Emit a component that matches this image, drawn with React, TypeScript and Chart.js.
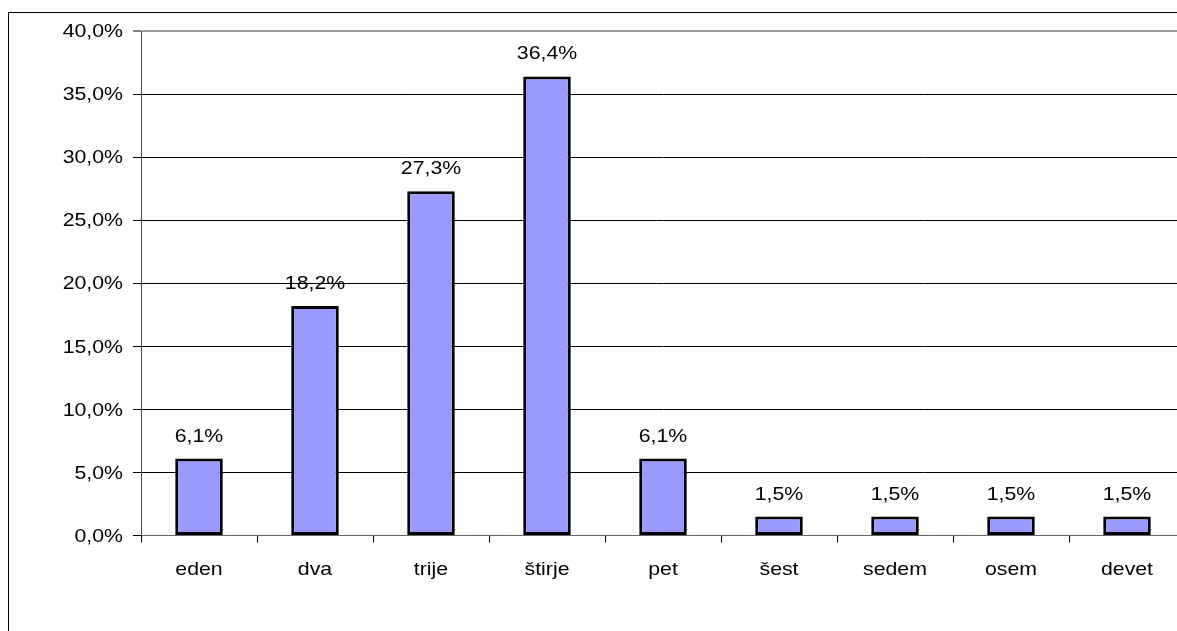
import React, { useEffect, useRef } from "react";
import { Chart, registerables } from "chart.js";

Chart.register(...registerables);

const categories = ["eden", "dva", "trije", "štirje", "pet", "šest", "sedem", "osem", "devet"];
const values = [6.1, 18.2, 27.3, 36.4, 6.1, 1.5, 1.5, 1.5, 1.5];
const yTicks = [0, 5, 10, 15, 20, 25, 30, 35, 40];

const FONT = '19px "Liberation Sans", Arial, sans-serif';
const SX = 1.12;

function fmt(v: number) {
  return v.toFixed(1).replace(".", ",") + "%";
}

function drawText(ctx: CanvasRenderingContext2D, text: string, x: number, y: number, align: "left" | "center" | "right", baseline: CanvasTextBaseline) {
  ctx.save();
  ctx.translate(x, y);
  ctx.scale(SX, 1);
  ctx.font = FONT;
  ctx.fillStyle = "#000";
  ctx.textAlign = align;
  ctx.textBaseline = baseline;
  ctx.fillText(text, 0, 0);
  ctx.restore();
}

const textPlugin = {
  id: "textPlugin",
  afterDraw(chart: any) {
    const ctx = chart.ctx as CanvasRenderingContext2D;
    const xs = chart.scales.x;
    const ys = chart.scales.y;
    yTicks.forEach((v) => {
      drawText(ctx, fmt(v), 123, ys.getPixelForValue(v) + 1, "right", "middle");
    });
    categories.forEach((c, i) => {
      drawText(ctx, c, xs.getPixelForValue(i), 575, "center", "alphabetic");
    });
    const meta = chart.getDatasetMeta(0);
    meta.data.forEach((bar: any, i: number) => {
      drawText(ctx, fmt(values[i]), bar.x, bar.y - 17, "center", "alphabetic");
    });
  },
};

export default function App() {
  const ref = useRef<HTMLCanvasElement | null>(null);
  useEffect(() => {
    if (!ref.current) return;
    const chart = new Chart(ref.current, {
      type: "bar",
      data: {
        labels: categories,
        datasets: [
          {
            data: values,
            backgroundColor: "#9999FF",
            borderColor: "#000000",
            borderWidth: 3,
            borderSkipped: false,
            categoryPercentage: 1,
            barPercentage: 0.41,
          },
        ],
      },
      options: {
        responsive: false,
        animation: false,
        devicePixelRatio: 1,
        layout: { padding: { left: 0, top: 31, right: 55, bottom: 0 } },
        plugins: { legend: { display: false }, tooltip: { enabled: false } },
        scales: {
          x: {
            afterFit: (s: any) => {
              s.height = 104.5;
            },
            ticks: { display: false },
            grid: {
              offset: true,
              drawOnChartArea: false,
              drawTicks: true,
              tickLength: 7,
              color: "#000",
            },
            border: { display: true, color: "#666", width: 1 },
          },
          y: {
            min: 0,
            max: 40,
            afterFit: (s: any) => {
              s.width = 141;
            },
            ticks: { display: false, stepSize: 5 },
            grid: {
              color: (c: any) => (c.tick && c.tick.value === 40 ? "#999" : "#000"),
              lineWidth: (c: any) => (c.tick && c.tick.value === 40 ? 2 : 1),
              tickLength: 8,
              tickColor: "#000",
              tickWidth: 1,
            },
            border: { display: true, color: "#444", width: 1 },
          },
        },
      },
      plugins: [textPlugin],
    });
    return () => chart.destroy();
  }, []);

  return (
    <div
      style={{
        position: "fixed",
        left: 0,
        top: 0,
        width: 1177,
        height: 631,
        overflow: "hidden",
        background: "#fff",
      }}
    >
      <div
        style={{
          position: "absolute",
          left: 8,
          top: 12,
          width: 1300,
          height: 700,
          borderLeft: "1px solid #000",
          borderTop: "1px solid #000",
        }}
      />
      <canvas ref={ref} width={1240} height={640} style={{ position: "absolute", left: 0, top: 0 }} />
    </div>
  );
}
